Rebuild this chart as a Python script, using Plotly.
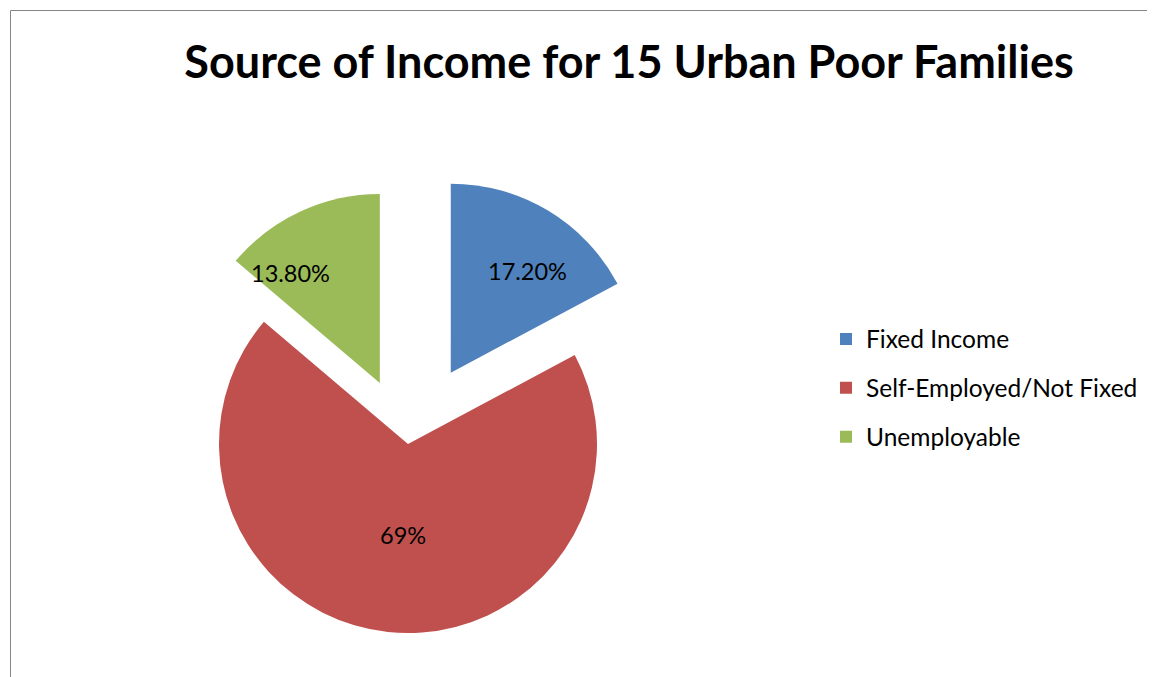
import numpy as np
import plotly.graph_objects as go

# ---- data ----
labels = ["Fixed Income", "Self-Employed/Not Fixed", "Unemployable"]
values = [17.2, 69, 13.8]
value_labels = ["17.20%", "69%", "13.80%"]

# ---- style ----
colors = ["#4F81BD", "#C0504D", "#9BBB59"]
VIEW_W, VIEW_H = 1155, 677
PAGE_OFF = 8            # page body margin of the browser, px
W, H = VIEW_W - PAGE_OFF, VIEW_H - PAGE_OFF
R = 189                 # pie radius in px
CENTER = (408, 444)     # pie centre in screen px
PULLS = [0.44, 0.0, 0.355]          # explosion of each slice, fraction of radius
LABEL_POS = [(0.676, 6.0), (0.482, -3.0), (0.749, -14.2)]  # (radius frac, deg from bisector)
FONT = "Lato"


def px_x(x):
    return (x - PAGE_OFF) / W


def px_y(y):
    return 1 - (y - PAGE_OFF) / H


total = float(sum(values))
cum = np.cumsum([0] + values[:-1])
mids = 2 * np.pi * (cum + np.array(values) / 2) / total  # clockwise from 12 o'clock

fig = go.Figure()
annotations = []

for i in range(len(labels)):
    vx = CENTER[0] + PULLS[i] * R * np.sin(mids[i])
    vy = CENTER[1] - PULLS[i] * R * np.cos(mids[i])
    dom = dict(x=[px_x(vx - R), px_x(vx + R)],
               y=[px_y(vy + R), px_y(vy - R)])
    fig.add_trace(go.Pie(
        labels=labels, values=values, sort=False,
        direction="clockwise", rotation=0,
        marker=dict(colors=[c if j == i else "rgba(0,0,0,0)" for j, c in enumerate(colors)],
                    line=dict(width=0)),
        textinfo="none",
        domain=dom, showlegend=False, hoverinfo="label+percent",
    ))
    fr, dth = LABEL_POS[i]
    a = mids[i] + np.deg2rad(dth)
    lx = vx + fr * R * np.sin(a)
    ly = vy - fr * R * np.cos(a)
    annotations.append(dict(
        text=value_labels[i], x=px_x(lx), y=px_y(ly), xref="paper", yref="paper",
        xanchor="center", yanchor="middle", showarrow=False,
        font=dict(family=FONT, size=23.5, color="black"),
    ))

# legend entries
for i in range(len(labels)):
    fig.add_trace(go.Pie(
        labels=[labels[i]], values=[values[i]],
        marker=dict(colors=[colors[i]], line=dict(width=0)),
        textinfo="none", hoverinfo="skip",
        domain=dict(x=[0, 0.0001], y=[0, 0.0001]),
        legendgroup="g%d" % i, showlegend=True,
    ))

fig.update_layout(
    width=W, height=H,
    margin=dict(l=0, r=0, t=0, b=0),
    paper_bgcolor="white", plot_bgcolor="white",
    title=dict(text="Source of Income for 15 Urban Poor Families",
               x=px_x(629), xanchor="center", y=px_y(62), yanchor="middle",
               font=dict(family=FONT, size=45, color="black", weight=700)),
    legend=dict(x=px_x(826), xanchor="left", y=px_y(388), yanchor="middle",
                font=dict(family=FONT, size=24.5, color="black"),
                tracegroupgap=14, bgcolor="rgba(0,0,0,0)"),
    annotations=annotations,
    shapes=[
        dict(type="line", xref="paper", yref="paper",
             x0=px_x(10.5), x1=px_x(10.5), y0=0, y1=px_y(10.5),
             line=dict(color="#868686", width=1)),
        dict(type="line", xref="paper", yref="paper",
             x0=px_x(10.5), x1=1, y0=px_y(10.5), y1=px_y(10.5),
             line=dict(color="#868686", width=1)),
    ],
)

fig.write_html("out.html")
